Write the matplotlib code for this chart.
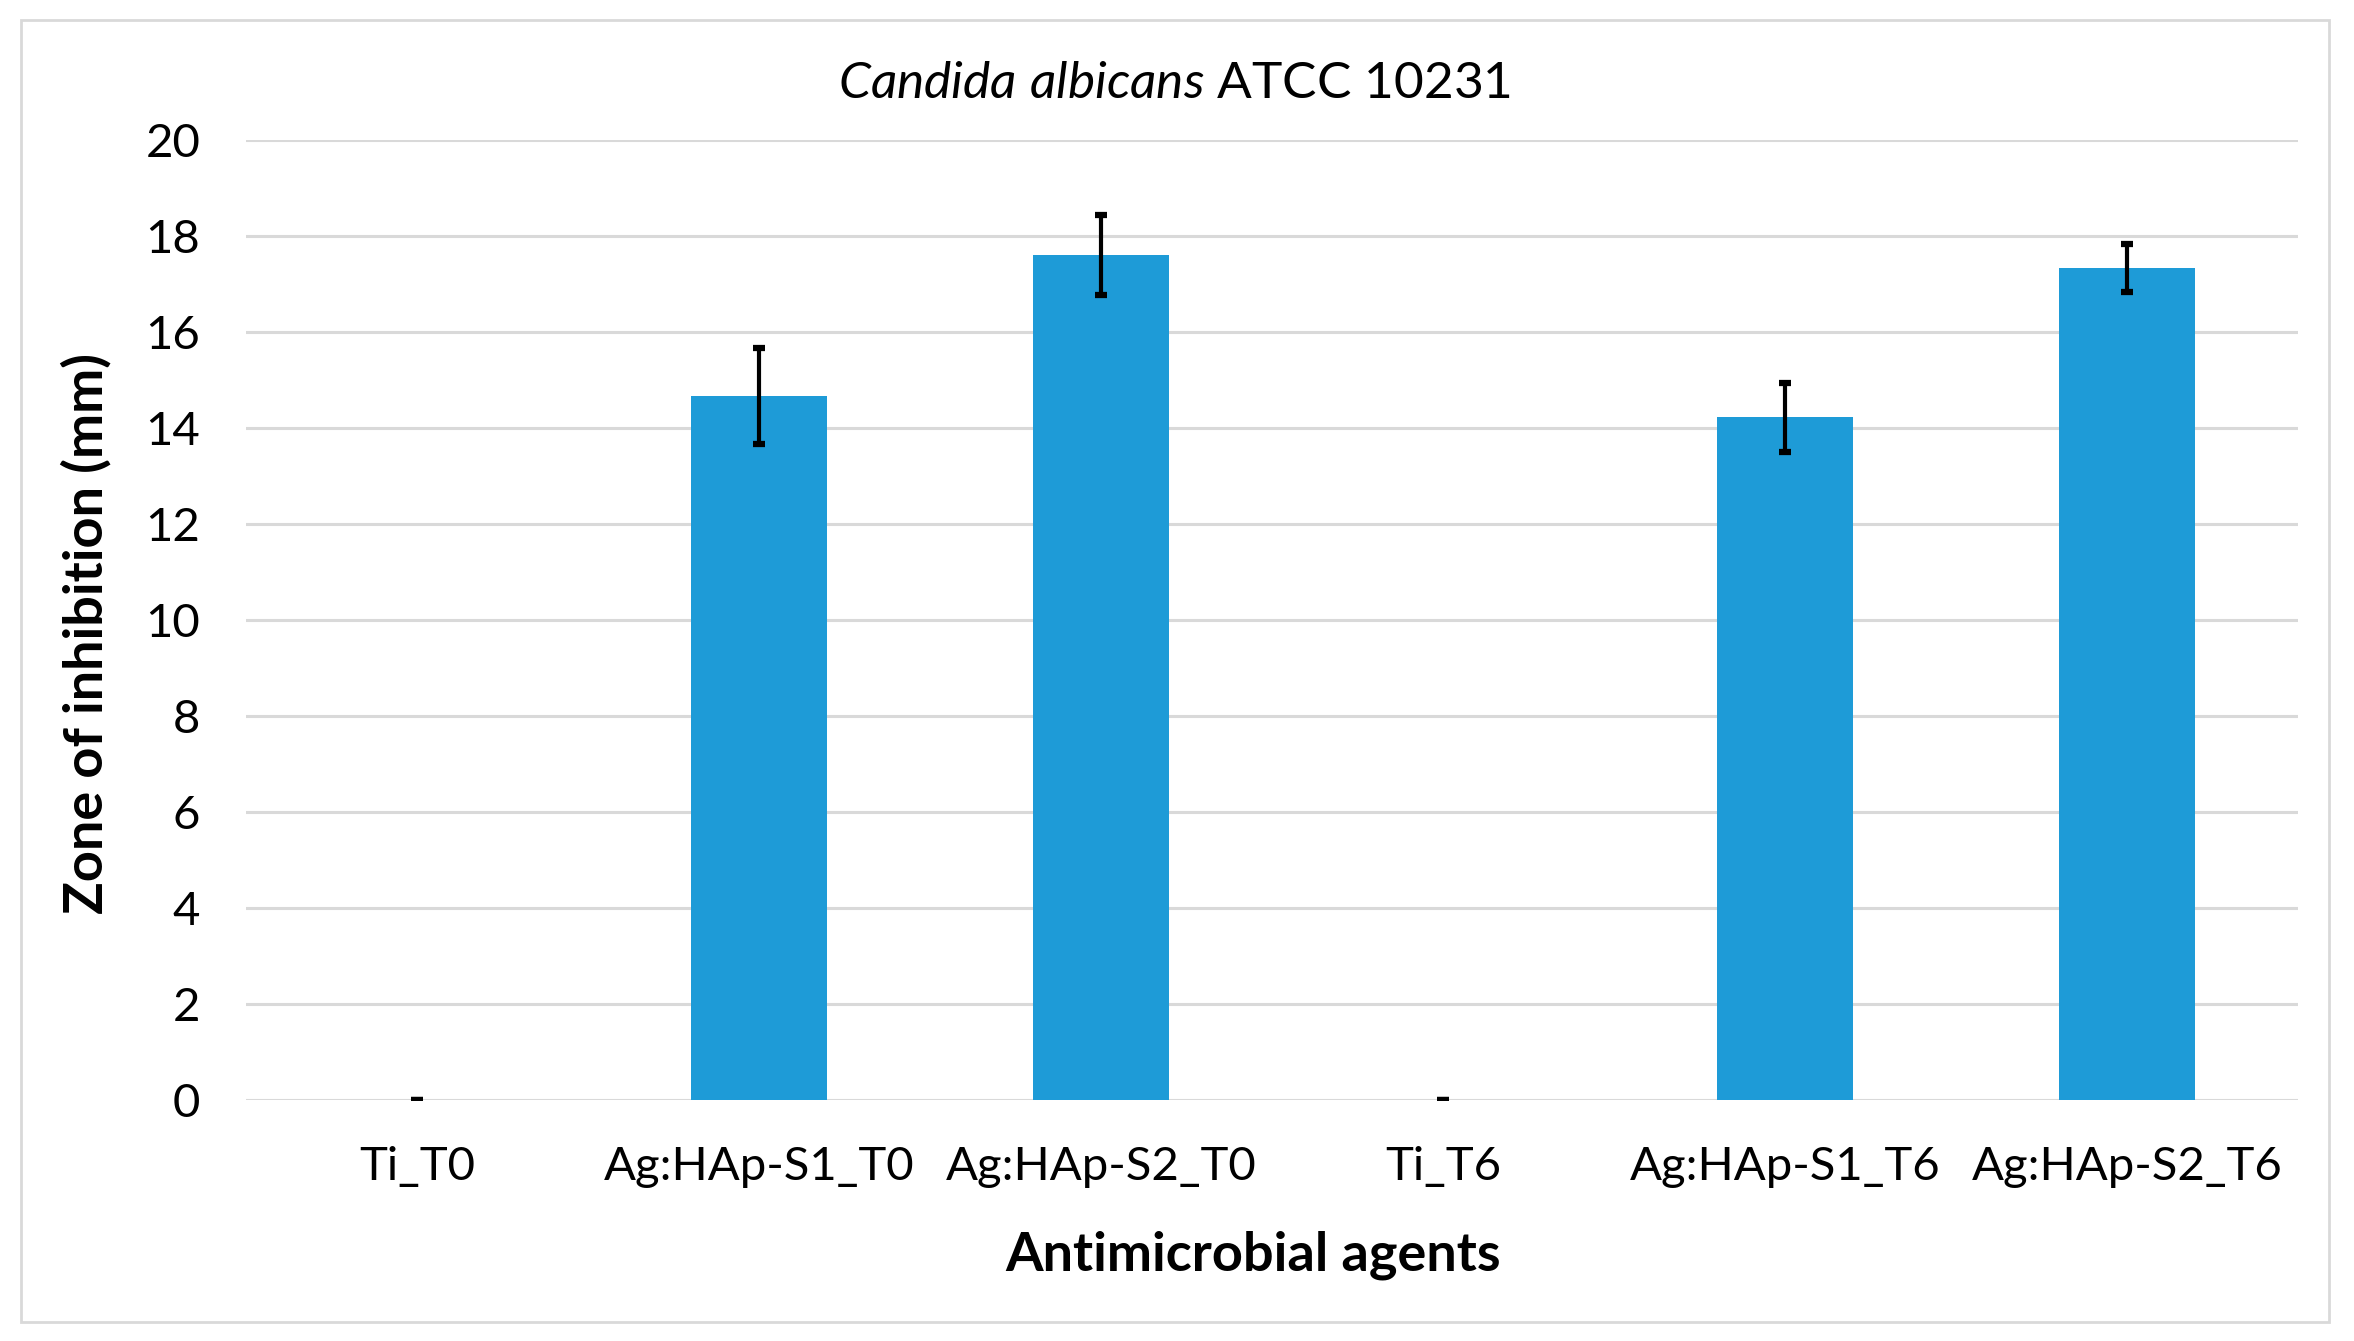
import numpy as np
import matplotlib
matplotlib.use('Agg')
import matplotlib.pyplot as plt
from matplotlib.patches import Rectangle

plt.rcParams['font.family'] = ['Lato', 'DejaVu Sans']
plt.rcParams['mathtext.fontset'] = 'custom'
plt.rcParams['mathtext.it'] = 'Lato:italic'
plt.rcParams['mathtext.rm'] = 'Lato'

# data
agents = ['Ti_T0', 'Ag:HAp-S1_T0', 'Ag:HAp-S2_T0', 'Ti_T6', 'Ag:HAp-S1_T6', 'Ag:HAp-S2_T6']
zone = [0.0, 14.67, 17.6, 0.0, 14.22, 17.33]
err = [0.0, 1.0, 0.83, 0.0, 0.72, 0.5]

W, H = 2354, 1341
fig = plt.figure(figsize=(W / 100, H / 100), dpi=100)

# plot area in pixels
L, R, T, B = 246, 2298, 140, 1100
ax = fig.add_axes([L / W, 1 - B / H, (R - L) / W, (B - T) / H])

x = np.arange(len(agents))
ax.bar(x, zone, width=0.4, color='#1e9bd7', zorder=3)
ax.errorbar(x, zone, yerr=err, fmt='none', ecolor='black', elinewidth=3,
            capsize=4.5, capthick=4.5, zorder=4)

ax.set_xlim(-0.5, len(agents) - 0.5)
ax.set_ylim(0, 20)
ax.set_yticks(np.arange(0, 21, 2))
ax.set_xticks(x)
ax.set_xticklabels(agents)
ax.grid(axis='y', color='#d9d9d9', linewidth=2.2, zorder=0)
ax.set_axisbelow(True)
for s in ax.spines.values():
    s.set_visible(False)
ax.tick_params(axis='both', length=0, labelsize=34, colors='#000000')
ax.tick_params(axis='y', pad=33)
ax.tick_params(axis='x', pad=33)

fig.text(1175 / W, 1 - 84 / H, r'$\it{Candida\ albicans}$ ATCC 10231',
         ha='center', va='center', fontsize=37)
fig.text(1253 / W, 1 - 1255 / H, 'Antimicrobial agents', ha='center', va='center',
         fontsize=39, fontweight='bold')
fig.text(86 / W, 1 - 634 / H, 'Zone of inhibition (mm)', ha='center', va='center',
         rotation=90, fontsize=39, fontweight='bold')

# chart border
fig.patches.append(Rectangle((21 / W, 1 - 1322 / H), (2329 - 21) / W, (1322 - 20) / H,
                             transform=fig.transFigure, fill=False,
                             edgecolor='#d9d9d9', linewidth=2))

fig.savefig('out.png', dpi=100, facecolor='white')
